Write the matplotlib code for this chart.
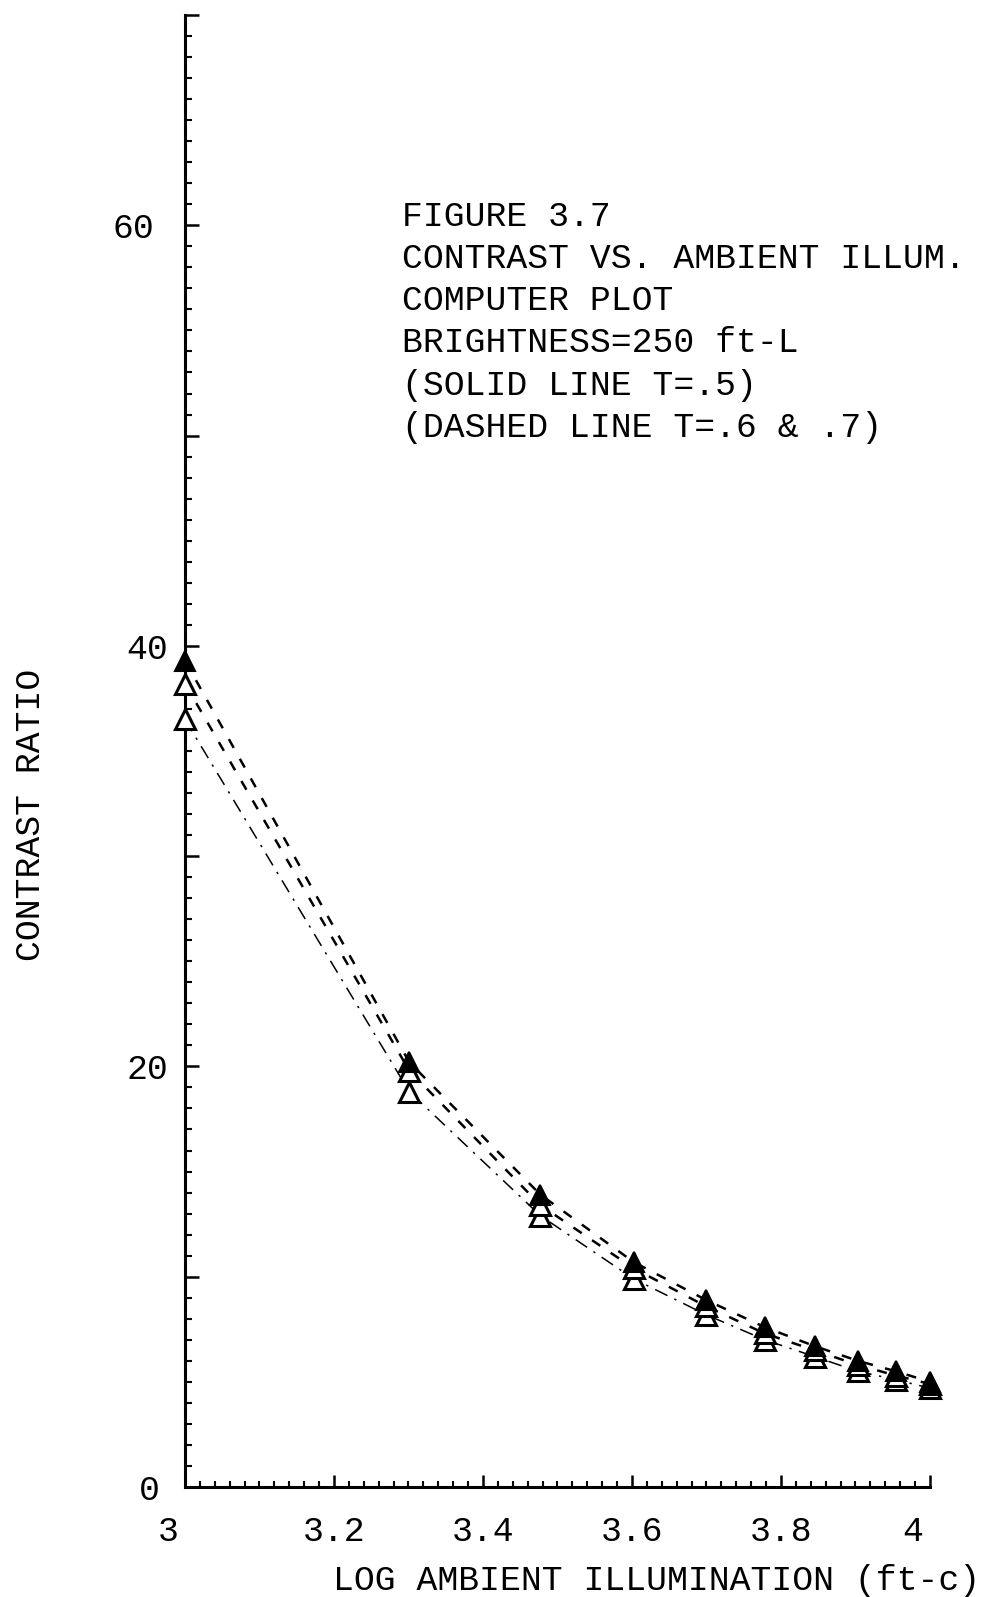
import numpy as np
import matplotlib
matplotlib.use("Agg")
import matplotlib.pyplot as plt
from matplotlib.ticker import MultipleLocator, FuncFormatter
from matplotlib.transforms import ScaledTranslation

# ambient illumination, ft-c (plotted as log10)
ambient = [1000, 2000, 3000, 4000, 5000, 6000, 7000, 8000, 9000, 10000]
log_ambient = np.log10(ambient)

# contrast ratio for each filter transmission
contrast_t7 = [39.3, 20.2, 13.9, 10.7, 8.9, 7.6, 6.7, 6.0, 5.5, 5.0]
contrast_t6 = [38.2, 19.8, 13.4, 10.4, 8.6, 7.3, 6.5, 5.8, 5.3, 4.9]
contrast_t5 = [36.5, 18.8, 12.9, 9.9, 8.2, 7.0, 6.2, 5.5, 5.1, 4.7]

notes = ["FIGURE 3.7",
         "CONTRAST VS. AMBIENT ILLUM.",
         "COMPUTER PLOT",
         "BRIGHTNESS=250 ft-L",
         "(SOLID LINE T=.5)",
         "(DASHED LINE T=.6 & .7)"]

plt.rcParams["font.family"] = ["Liberation Mono", "DejaVu Sans Mono"]

fig = plt.figure(figsize=(9.94, 15.97), dpi=100)
ax = fig.add_axes([0.1861, 0.0689, 0.7495, 0.9217])

# solid line (drawn broken, like the plotter pen)
ax.plot(log_ambient, contrast_t5, color="k", lw=1.1,
        linestyle=(0, (9, 5, 1.5, 5)), marker="^", markersize=14,
        markerfacecolor="white", markeredgecolor="k", markeredgewidth=2.2,
        clip_on=False, zorder=3)
ax.plot(log_ambient, contrast_t6, color="k", lw=1.8, dashes=(4, 5),
        marker="^", markersize=14, markerfacecolor="white",
        markeredgecolor="k", markeredgewidth=2.2, clip_on=False, zorder=4)
ax.plot(log_ambient, contrast_t7, color="k", lw=1.8, dashes=(4, 5),
        marker="^", markersize=14, markerfacecolor="k",
        markeredgecolor="k", markeredgewidth=1.5, clip_on=False, zorder=5)

ax.set_xlim(3, 4)
ax.set_ylim(0, 70)

for side in ["top", "right"]:
    ax.spines[side].set_visible(False)
for side in ["left", "bottom"]:
    ax.spines[side].set_linewidth(2.2)

ax.xaxis.set_major_locator(MultipleLocator(0.2))
ax.xaxis.set_minor_locator(MultipleLocator(0.02))
ax.yaxis.set_major_locator(MultipleLocator(10))
ax.yaxis.set_minor_locator(MultipleLocator(1))

ax.xaxis.set_major_formatter(FuncFormatter(lambda v, p: "%g" % round(v, 1)))
ax.yaxis.set_major_formatter(
    FuncFormatter(lambda v, p: "%d" % v if round(v) % 20 == 0 else ""))

ax.tick_params(axis="both", which="major", direction="in", width=1.8,
               labelsize=25, color="k")
ax.tick_params(axis="both", which="minor", direction="in", width=1.5)
ax.tick_params(axis="x", which="major", length=9, pad=20)
ax.tick_params(axis="x", which="minor", length=4.5)
ax.tick_params(axis="y", which="major", length=10, pad=22)
ax.tick_params(axis="y", which="minor", length=5)

fig.canvas.draw()

# single digit x labels sit left of their ticks
for lab in ax.get_xticklabels():
    if "." not in lab.get_text():
        lab.set_transform(lab.get_transform() +
                          ScaledTranslation(-0.17, 0, fig.dpi_scale_trans))

# the plotter put the y labels at slightly uneven distances from the axis
y_shift = {"0": 0.05, "20": 0.14, "40": 0.14, "60": 0.0}
for lab in ax.get_yticklabels():
    dx = y_shift.get(lab.get_text(), 0.0)
    lab.set_transform(lab.get_transform() +
                      ScaledTranslation(dx, 0, fig.dpi_scale_trans))

ax.set_xlabel("LOG AMBIENT ILLUMINATION (ft-c)", fontsize=25)
ax.xaxis.label.set_ha("left")
ax.xaxis.label.set_va("center")
ax.xaxis.set_label_coords(0.199, -0.0635)

ax.set_ylabel("CONTRAST RATIO", fontsize=25)
ax.yaxis.label.set_va("center")
ax.yaxis.set_label_coords(-0.207, 0.4565)

for i, line in enumerate(notes):
    fig.text(402 / 994, 1 - (216 + 42.3 * i) / 1597, line, fontsize=25,
             ha="left", va="center")

fig.savefig("out.png", dpi=100)
